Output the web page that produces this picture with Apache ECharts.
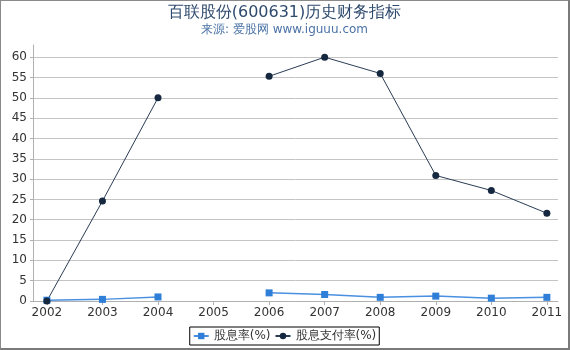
<!DOCTYPE html>
<html>
<head>
<meta charset="utf-8">
<script src="https://cdn.jsdelivr.net/npm/echarts@6/dist/echarts.min.js"></script>
<style>
html,body{margin:0;padding:0;background:#fff;}
#c{width:567px;height:347px;border-left:1px solid #8a8a8a;border-top:1px solid #8a8a8a;border-right:2px solid #7a7a7a;border-bottom:2px solid #7a7a7a;}
</style>
</head>
<body>
<div id="c"></div>
<script>
const years = [2002, 2003, 2004, 2005, 2006, 2007, 2008, 2009, 2010, 2011];
const dividendYield = [0.2, 0.4, 1.0, null, 2.0, 1.6, 0.9, 1.2, 0.7, 0.9];
const payoutRatio = [0, 24.6, 50.0, null, 55.3, 60.0, 56.0, 30.9, 27.2, 21.6];
const yTicks = [0, 5, 10, 15, 20, 25, 30, 35, 40, 45, 50, 55, 60];
const seriesNames = ['股息率(%)', '股息支付率(%)'];

const chart = echarts.init(document.getElementById('c'));
const font = 'DejaVu Sans';
chart.setOption({
  animation: false,
  title: {
    text: '百联股份(600631)历史财务指标',
    subtext: '来源: 爱股网 www.iguuu.com',
    left: 'center',
    top: -1,
    itemGap: 3,
    textStyle: {fontFamily: font, fontSize: 16, fontWeight: 'normal', color: '#2f4b6e'},
    subtextStyle: {fontFamily: font, fontSize: 12, color: '#4a72a6'}
  },
  grid: {left: 32, right: 10, top: 44, bottom: 47},
  xAxis: {
    type: 'value',
    min: 2001.75,
    max: 2011.2,
    splitLine: {show: false},
    axisLine: {lineStyle: {color: '#b0b0b0'}},
    axisTick: {show: true, length: 4, lineStyle: {color: '#b0b0b0'}, customValues: years},
    axisLabel: {customValues: years, fontFamily: font, fontSize: 12, color: '#333', margin: 6,
      formatter: v => String(Math.round(v))}
  },
  yAxis: {
    type: 'value',
    min: 0,
    max: 63,
    axisLine: {show: true, lineStyle: {color: '#b0b0b0'}},
    axisTick: {show: true, length: 3, lineStyle: {color: '#b0b0b0'}, customValues: yTicks},
    axisLabel: {customValues: yTicks, fontFamily: font, fontSize: 12, color: '#333', margin: 6},
    splitLine: {lineStyle: {color: '#c4c4c4'}}
  },
  legend: {
    bottom: 3,
    left: 'center',
    borderColor: '#000',
    borderWidth: 1,
    borderRadius: 0,
    padding: [3, 3],
    itemGap: 4,
    itemWidth: 15,
    itemHeight: 8,
    textStyle: {fontFamily: font, fontSize: 12, color: '#333'},
    data: seriesNames
  },
  series: [
    {
      name: seriesNames[0],
      type: 'line',
      data: years.map((y, i) => [y, dividendYield[i]]),
      symbol: 'rect',
      symbolSize: 7,
      connectNulls: false,
      itemStyle: {color: '#2f7fd9'},
      lineStyle: {color: '#4a90e0', width: 1.5}
    },
    {
      name: seriesNames[1],
      type: 'line',
      data: years.map((y, i) => [y, payoutRatio[i]]),
      symbol: 'circle',
      symbolSize: 7,
      connectNulls: false,
      itemStyle: {color: '#152840'},
      lineStyle: {color: '#2a3c55', width: 1}
    }
  ]
});
</script>
</body>
</html>
